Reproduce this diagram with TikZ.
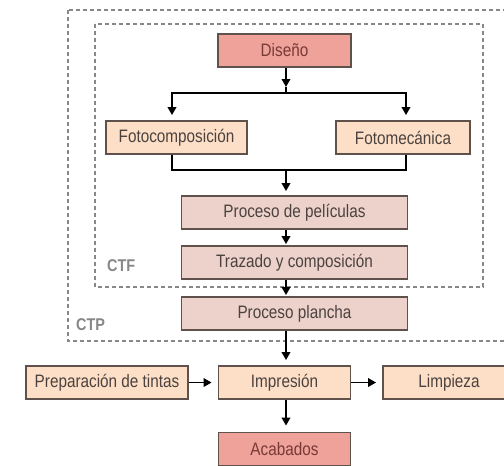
\documentclass[tikz,border=0pt]{standalone}
\usepackage{fontspec}
\setmainfont[FakeStretch=0.85]{Liberation Sans}
\usetikzlibrary{arrows.meta}
\definecolor{rosa}{RGB}{238,162,154}
\definecolor{melocoton}{RGB}{252,223,198}
\definecolor{malva}{RGB}{236,210,202}
\definecolor{borde}{RGB}{95,82,76}
\definecolor{texto}{RGB}{75,66,63}
\definecolor{textorosa}{RGB}{120,58,54}
\definecolor{zona}{RGB}{135,135,135}
\tikzset{
  caja/.style={draw=borde, line width=1.8pt, minimum height=33pt, inner sep=0pt,
    text=texto, font=\fontsize{18}{20}\selectfont},
  clave/.style={caja, fill=rosa, text=textorosa},
  tarea/.style={caja, fill=melocoton},
  proceso/.style={caja, fill=malva},
  flecha/.style={line width=1.8pt, black, -{Triangle[length=8pt,width=8.5pt]}, shorten >=4pt},
  linea/.style={line width=1.8pt, black},
  zonabox/.style={draw=zona, line width=1.8pt, dash pattern=on 4pt off 3pt},
  etiqueta/.style={text=zona, font=\bfseries\fontsize{17}{19}\selectfont, inner sep=0pt}
}
\begin{document}
\begin{tikzpicture}[x=1pt,y=-1pt]
\useasboundingbox (0,0) rectangle (504,466);
\clip (0,0) rectangle (504,466);
\fill[white] (0,0) rectangle (504,466);

% CTP and CTF areas
\draw[zonabox] (68,10) rectangle (520,341);
\draw[zonabox] (95,24) rectangle (483,287);
\node[etiqueta, anchor=west] (ctf) at (107,266) {CTF};
\node[etiqueta, anchor=west] (ctp) at (76,325) {CTP};

% main axis
\coordinate (ax) at (286,0);

% boxes
\node[clave, minimum width=133pt] (dis) at (284.5,50.5) {Diseño};
\node[tarea, minimum width=141pt] (fc) at (176.5,137.5) {Fotocomposición};
\node[tarea, minimum width=134pt] (fm) at (403,137.5) {Fotomecánica};
\node[proceso, minimum width=226pt] (pp) at (294.5,212.5) {Proceso de películas};
\node[proceso, minimum width=226pt] (tc) at (294.5,262.5) {Trazado y composición};
\node[proceso, minimum width=226pt] (pl) at (294.5,313.5) {Proceso plancha};
\node[tarea, minimum width=132pt] (imp) at (284.5,382.5) {Impresión};
\node[tarea, minimum width=162pt] (prep) at (107,382.5) {Preparación de tintas};
\node[tarea, minimum width=132pt] (lim) at (449,382.5) {Limpieza};
\node[clave, minimum width=132pt] (aca) at (284.5,449) {Acabados};

% split below Diseño
\coordinate (tipd) at (286,87);
\coordinate (sp) at (286,93);
\coordinate (spL) at (172,93);
\coordinate (spR) at (406,93);
\draw[flecha, shorten >=0pt] (dis.south -| ax) -- (tipd);
\draw[linea] (tipd) -- (sp);
\draw[linea, line cap=rect] (spL) -- (spR);
\draw[flecha, shorten >=5pt] (spL) -- (fc.north -| spL);
\draw[flecha, shorten >=5pt] (spR) -- (fm.north -| spR);

% join below Fotocomposición and Fotomecánica
\coordinate (jn) at (286,170);
\draw[linea] (fc.south -| spL) |- (jn) -| (fm.south -| spR);
\draw[flecha] (jn) -- (pp.north -| ax);

% film and plate chain
\draw[flecha, shorten >=1pt] (pp.south -| ax) -- (tc.north -| ax);
\draw[flecha, shorten >=1pt] (tc.south -| ax) -- (pl.north -| ax);
\draw[flecha, shorten >=5pt] (pl.south -| ax) -- (imp.north -| ax);

% printing
\draw[flecha, shorten >=6pt] (prep) -- (imp);
\draw[flecha, shorten >=6pt] (imp) -- (lim);
\draw[flecha, shorten >=6pt] (imp.south -| ax) -- (aca.north -| ax);
\end{tikzpicture}
\end{document}
